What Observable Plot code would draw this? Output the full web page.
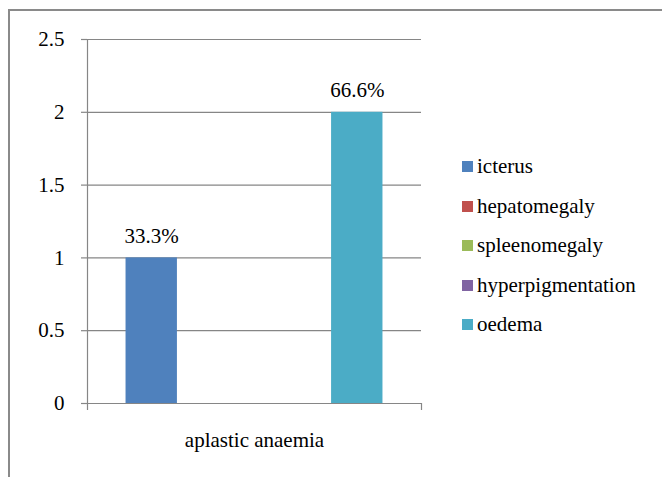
<!DOCTYPE html>
<html>
<head>
<meta charset="utf-8">
<script src="https://cdn.jsdelivr.net/npm/d3@7"></script>
<script src="https://cdn.jsdelivr.net/npm/@observablehq/plot@0.6"></script>
<style>
  html, body { margin: 0; padding: 0; background: #fff; }
  #wrap { position: relative; width: 662px; height: 477px; overflow: hidden; font-family: "Liberation Serif", "DejaVu Serif", "Noto Serif", Tinos, FreeSerif, "Times New Roman", Times, serif; }
  #border { position: absolute; left: 8px; top: 9px; width: 720px; height: 520px; border-top: 2px solid #8a8a8a; border-left: 2px solid #8a8a8a; pointer-events: none; }
  #legend { position: absolute; left: 462px; top: 147px; }
  .row { display: flex; align-items: center; height: 39.5px; font-size: 21px; color: #000; }
  .sw { width: 11px; height: 11px; margin-right: 4px; flex: none; }
</style>
</head>
<body>
<div id="wrap"><div id="border"></div><div id="legend"></div></div>
<script>
const categories = ["aplastic anaemia"];
const series = ["icterus", "hepatomegaly", "spleenomegaly", "hyperpigmentation", "oedema"];
const values = [1, 0, 0, 0, 2];
const valueLabels = ["33.3%", "", "", "", "66.6%"];
const colors = ["#4F81BD", "#C0504D", "#9BBB59", "#8064A2", "#4BACC6"];
const yTicks = [0, 0.5, 1, 1.5, 2, 2.5];
const yTickLabels = ["0", "0.5", "1", "1.5", "2", "2.5"];

const gap = 0.75; // Excel-style gap on each side, in bar widths
const data = series.map((s, i) => ({series: s, i, value: values[i], label: valueLabels[i], category: categories[0]}));
const xDomain = [-0.5 - gap, series.length - 0.5 + gap];
const grey = "#868686";
const serif = "'Liberation Serif', 'DejaVu Serif', 'Noto Serif', Tinos, FreeSerif, 'Times New Roman', Times, serif";

const chart = Plot.plot({
  width: 662,
  height: 477,
  marginLeft: 87,
  marginRight: 241,
  marginTop: 39,
  marginBottom: 74,
  style: {fontFamily: serif, background: "transparent", color: "#000"},
  x: {type: "linear", domain: xDomain, axis: null},
  y: {domain: [0, 2.5], axis: null},
  color: {domain: series, range: colors},
  marks: [
    Plot.ruleY(yTicks, {stroke: grey, strokeWidth: 1.2}),
    Plot.rectY(data, {x1: d => d.i - 0.5, x2: d => d.i + 0.5, y: "value", fill: "series"}),
    Plot.ruleX([xDomain[0]], {stroke: grey, strokeWidth: 1.2, insetBottom: -7}),
    Plot.ruleX([xDomain[1]], {y1: 0, y2: 0, stroke: grey, strokeWidth: 1.2, insetBottom: -7}),
    Plot.axisY(yTicks, {tickSize: 6, tickPadding: 17, fontSize: 21, stroke: grey, strokeWidth: 1.2, label: null,
      tickFormat: d => yTickLabels[yTicks.indexOf(d)]}),
    Plot.text(data.filter(d => d.label), {x: "i", y: "value", text: "label", dy: -22, lineAnchor: "middle", fontSize: 21, fill: "#000"}),
    Plot.text(categories, {frameAnchor: "bottom", dy: 37, lineAnchor: "middle", fontSize: 21, fill: "#000"})
  ]
});
document.getElementById("wrap").insertBefore(chart, document.getElementById("border"));

const legend = document.getElementById("legend");
series.forEach((s, i) => {
  const row = document.createElement("div");
  row.className = "row";
  const sw = document.createElement("div");
  sw.className = "sw";
  sw.style.background = colors[i];
  const t = document.createElement("span");
  t.textContent = s;
  row.appendChild(sw);
  row.appendChild(t);
  legend.appendChild(row);
});
</script>
</body>
</html>
